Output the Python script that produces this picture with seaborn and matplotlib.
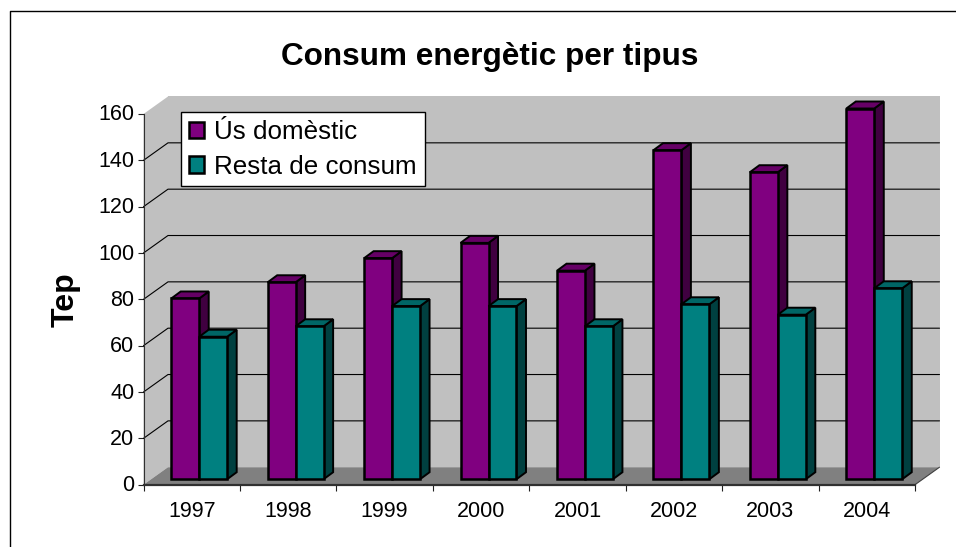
import matplotlib
matplotlib.use("Agg")
import matplotlib.pyplot as plt
from matplotlib.lines import Line2D
from matplotlib.patches import Polygon, Rectangle
from matplotlib.transforms import Affine2D
import pandas as pd
import seaborn as sns

years = ["1997", "1998", "1999", "2000", "2001", "2002", "2003", "2004"]
domestic = [78, 85, 95.4, 102, 90, 142, 132.5, 160]
other = [61.5, 66, 74.7, 74.7, 66, 75.5, 71, 82.4]
series_names = ["Ús domèstic", "Resta de consum"]
yticks = [0, 20, 40, 60, 80, 100, 120, 140, 160]

W, H = 956, 547
# front plane of the fake 3d box, in pixels
LEFT, RIGHT, BOTTOM, TOP = 143.5, 915, 484.7, 114
px_x = (RIGHT - LEFT) / len(years)
px_y = (BOTTOM - TOP) / 160

sns.set_theme(style="white")
plt.rcParams['font.family'] = ['Liberation Sans', 'DejaVu Sans']

fig = plt.figure(figsize=(W / 100, H / 100), dpi=100)
# chart frame only shows on top and left, the rest is cropped
fig.add_artist(Line2D([9.5 / W, 9.5 / W, 1], [0, 1 - 10.5 / H, 1 - 10.5 / H], color='black', lw=1,
                      transform=fig.transFigure))
ax = fig.add_axes([LEFT / W, 1 - BOTTOM / H, (RIGHT - LEFT) / W, (BOTTOM - TOP) / H])

df = pd.DataFrame({
    "year": years * 2,
    "value": domestic + other,
    "kind": [series_names[0]] * len(years) + [series_names[1]] * len(years),
})
sns.barplot(data=df, x="year", y="value", hue="kind", palette=["#800080", "#008080"],
            width=0.58, gap=0, edgecolor="black", linewidth=1.8, saturation=1, ax=ax, zorder=5)

ax.set_xlim(-0.5, len(years) - 0.5)
ax.set_ylim(0, 160)
ax.set_yticks(yticks)
ax.set_xticks([i - 0.5 for i in range(len(years) + 1)], minor=False)
ax.set_xticklabels([])
for i, y in enumerate(years):
    ax.text(i, -0.045, y, ha='center', va='top', fontsize=15.5, color='black',
            transform=ax.get_xaxis_transform(), clip_on=False)
ax.tick_params(axis='both', length=4.5, width=0.8, color='#202020', bottom=True, left=True,
               labelsize=15.5, labelcolor='black', pad=2)
# tick labels sit slightly above their ticks in the original
for lbl in ax.get_yticklabels():
    lbl.set_transform(lbl.get_transform() + Affine2D().translate(0, 1.5))
for s in ['top', 'right']:
    ax.spines[s].set_visible(False)
ax.spines['left'].set_linewidth(0.8)
ax.spines['left'].set_color('#303030')
ax.spines['bottom'].set_linewidth(1.6)
ax.spines['bottom'].set_color('#303030')
ax.spines['left'].set_zorder(1)
ax.spines['bottom'].set_zorder(2)
ax.patch.set_visible(False)
ax.set_xlabel("")
ax.set_ylabel("Tep", fontsize=23, fontweight='bold', color='black', labelpad=13)

# wall depth and bar placement inside the box, in data units
dx = 24.5 / px_x
dy = 17.5 / px_y
x0, x1 = -0.5, len(years) - 0.5

def poly(pts, **kw):
    ax.add_patch(Polygon(pts, clip_on=False, **kw))

wall = "#C0C0C0"
poly([(x0, 0), (x0 + dx, dy), (x0 + dx, 160 + dy), (x0, 160)], fc=wall, ec='none', zorder=0)
poly([(x0 + dx, dy), (x1 + dx, dy), (x1 + dx, 160 + dy), (x0 + dx, 160 + dy)], fc=wall, ec='none', zorder=0)
poly([(x0, 0), (x1, 0), (x1 + dx, dy), (x0 + dx, dy)], fc="#808080", ec='none', zorder=0.5)
ax.plot([x1, x1 + dx], [0, dy], color='#404040', lw=0.8, clip_on=False, zorder=0.6)

# no gridline at the top of the wall
for v in yticks[1:-1]:
    ax.plot([x0, x0 + dx, x1 + dx], [v, v + dy, v + dy], color='black', lw=0.8, clip_on=False, zorder=1)

# push bars back from the front plane and give them side and top faces
off_x = 7.5 / px_x
off_y = 5.5 / px_y
bar_dx = 9.5 / px_x
bar_dy = 7 / px_y
shade = {"#800080": ("#400040", "#660066"), "#008080": ("#004040", "#006666")}
n = len(years)
bars = [b for b in ax.patches if isinstance(b, Rectangle)][:2 * n]
for k, b in enumerate(bars):
    col = "#800080" if k < n else "#008080"
    side, top = shade[col]
    z = 5 + k % n + (0.5 if k >= n else 0)
    b.set_x(b.get_x() + off_x)
    b.set_y(off_y)
    b.set_clip_on(False)
    b.set_zorder(z + 0.2)
    xa, xb = b.get_x(), b.get_x() + b.get_width()
    ya, yb = off_y, off_y + b.get_height()
    poly([(xb, ya), (xb + bar_dx, ya + bar_dy), (xb + bar_dx, yb + bar_dy), (xb, yb)],
         fc=side, ec='black', lw=1.4, zorder=z)
    poly([(xa, yb), (xa + bar_dx, yb + bar_dy), (xb + bar_dx, yb + bar_dy), (xb, yb)],
         fc=top, ec='black', lw=1.4, zorder=z)

leg = ax.legend(loc='upper left', bbox_to_anchor=((181 - LEFT) / (RIGHT - LEFT), (BOTTOM - 112) / (BOTTOM - TOP)),
                title=None, frameon=True, fancybox=False, framealpha=1, facecolor='white', edgecolor='black',
                fontsize=18.7, handlelength=0.58, handleheight=0.58, handletextpad=0.4,
                labelspacing=0.42, borderpad=0.3, borderaxespad=0, labelcolor='black')
leg.set_zorder(20)
leg.get_frame().set_linewidth(1)

fig.text(489.5 / W, 1 - 56.5 / H, "Consum energètic per tipus", ha='center', va='center',
         fontsize=22.7, fontweight='bold', color='black')

fig.savefig("out.png", dpi=100, facecolor='white')
